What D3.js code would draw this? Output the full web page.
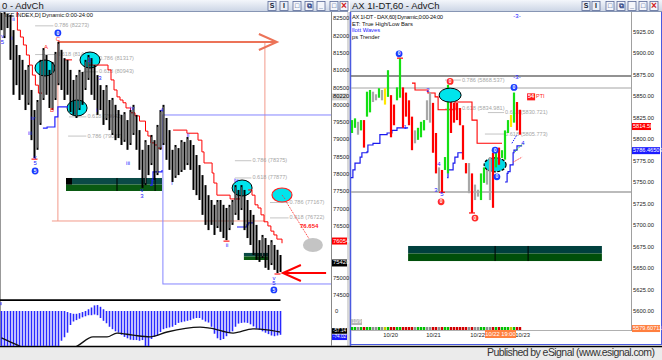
<!DOCTYPE html>
<html>
<head>
<meta charset="utf-8">
<script src="https://cdn.jsdelivr.net/npm/d3@7"></script>
<style>
  body { margin: 0; background: #fff; }
  svg { display: block; font-family: "Liberation Sans", Arial, sans-serif; }
</style>
</head>
<body>
<script>
// ---- left window: daily index bars ----
var dayHigh = [82650,82670,82620,82590,82150,81720,81430,81290,81000,81140,
  80420,79840,80130,81290,81630,81430,81000,81230,81520,81810,
  81580,81340,81290,81000,80710,80850,81000,80940,81290,81430,
  81340,81140,80850,80560,80420,80560,80130,80190,79990,79840,
  79700,79780,79550,79840,79990,79700,79260,78690,78970,78830,
  79120,78970,79410,79840,79990,79610,79260,78690,78830,78740,
  78970,78920,79060,78970,78830,78540,78250,77960,77670,77380,
  77240,77100,77240,77240,77100,77010,77100,77240,77670,77530,
  77670,77530,77240,76950,76810,76520,76080,76230,76140,75940,
  76080,75940,75800,75650];
var dayLow = [82150,81920,82210,81290,80280,80560,80130,80280,79840,79990,
  78970,78450,78690,79410,80130,80280,79900,79840,80130,80560,
  80420,80130,80280,79780,79700,79610,79840,79990,80420,80710,
  80280,80130,79700,79840,79410,79550,79260,79120,78970,79030,
  78830,78920,78690,78830,79120,78690,78110,77590,77670,77960,
  78250,77820,77960,78690,78830,78400,78110,77760,77880,77960,
  78050,78110,78250,78110,77530,77380,77240,76810,76520,76370,
  76520,76230,76430,76320,76140,76080,76370,76520,76810,76660,
  76950,76370,76140,75940,75650,75510,75450,75560,75280,75220,
  75360,75220,75130,75160];
var leftTicks = [82500,82000,81500,81000,80500,80000,79500,79000,78500,78000,77500,77000,76500,75000,74500];

// trailing stops, [bar, price] steps
var redStopL = [
  [[5,82670],[5.3,82150],[6.3,81950],[7.3,81720],[8.3,81430],[9.3,81140],[10.3,80850],[11.3,80560],[12.3,80330],[13.5,80330]],
  [[21.2,81290],[23.5,81290]],
  [[28.8,81140],[35.2,81140],[35.5,81000],[36.5,80710],[37.5,80420],[38.5,80220],[39.5,80130],[40.5,80050],[41.5,79900],[43,79760],[44.5,79670],[46,79520],[48,79230],[48.8,79090],[49.8,78890],[51,78830],[52,78740],[53.5,78740]],
  [[57.2,79260],[61.8,79170],[65.5,78970],[66.8,78630],[67.5,78310],[70.2,78020],[70.8,77730],[71.8,77380],[76.2,77270],[79.5,77270]],
  [[82.2,77530],[83.5,77380],[84.5,77100],[85.5,77010],[86.5,76810],[87.5,76610],[88.8,76490],[89.8,76340],[90.8,76230],[91.8,76110],[93.5,75990]]
];
var blueStopL = [
  [[13.8,79320],[15.2,79350],[17.8,79640],[18.8,79930],[22.2,79930]],
  [[49.5,77670],[50.2,77820],[50.5,78050],[53.5,78110]],
  [[78.5,76460],[81.8,76520],[82.2,76580],[83.8,76580]]
];

// fib retracements: ratio, level, line from bar, line to bar
var fibL = [
  ["0.786", 82273, 11.2, 17.3], ["0.618", 81443, 11.2, 18.2],
  ["0.786", 81317, 27.5, 32.2], ["0.618", 80943, 27.0, 32.2],
  ["0.618", 79642, 22.5, 28.3], ["0.786", 79087, 22.2, 28.3],
  ["0.786", 78375, 77.8, 83.3], ["0.618", 77877, 77.8, 83.3],
  ["0.786", 77167, 89.5, 95.7], ["0.618", 76722, 89.5, 95.7]
];
var wavesL = [
  [0.3,81980,"v","b"],[0.3,81780,"5","b"],[4.0,82445,"ii","b"],[3.5,81920,"i","b"],
  [14.8,81662,"A","r"],[18.8,81893,"C","r"],[16.8,79841,"B","r"],
  [10.5,79610,"iv","b"],[9.5,79177,"iii","b"],[11.2,78483,"v","b"],[11.2,78310,"5","b"],
  [29.5,81286,"2","b"],[32.8,80766,"3","b"],[31.8,79841,"i","b"],[43.5,79899,"iv","b"],
  [42.2,78310,"iii","b"],[46.8,77530,"v","b"],[46.8,77330,"3","b"],[53.5,79841,"4","b"],
  [56.8,77731,"i","b"],[62.2,79119,"ii","b"],[78.2,77818,"iv","b"],[75.2,75940,"ii","b"],
  [90.8,74986,"v","b"],[90.8,74842,"5","b"]
];
var circledL = [[18.8,82067,"0"],[11.2,78078,"5"],[90.8,74640,"5"]];
var lowTicksL = [11, 75, 92];
var cyanL = [[14.5,81055],[29.5,81286],[25.2,79899],[80.2,77587]];
var projEllipse = [93.5, 77385], projTarget = [103.8, 75940];
var projText = [99.5, 76490, "76.654"];
var zonesL = [[21.5,53.5,77876,77500],[80.8,88.8,75710,75506]];
var zoneSplitL = [38.5, 51.2];
var targetBox = {i0: 18.8, i1: 87.8, top: 81806, bot: 76633, botFrom: 16.8, arrowTo: 91.8};
var rangeBox = {i0: 53.8, i1: 110.2, top: 79697, bot: 74813};
var pointer = {from: 108.2, to: 93.8, price: 75130};
var boxesL = [[80220,"80220","#d4d4d4","#000"],[76054,"76054","#ff0000","#fff"],[75420,"75420","#000","#fff"]];

// ---- indicator panel (left) ----
var indTop = [0,0,0,0,0,0,0,0,0,0,0,0,0,0,0,0,0,0,0,0,0,0,
  -3,-6,-8,-8,-6,-3,0,5,10,16,17,12,5,
  0,0,0,0,0,0,0,0,0,0,0,0,0,0,0,0,0,0,0,0,0,0,0,0,0,0,0,0,0,0,0,0,0,0,0,0,0,0,0,0,0,0,0,0,0,0,0,0,0,0,0,0,0,0,0,0,0,0,0];
var indBot = [-100,-100,-100,-100,-100,-100,-100,-100,-100,-100,-100,-100,-100,-100,-100,-100,-100,-100,-100,-100,
  -85,-75,-62,-40,-30,-26,-22,-18,-15,-12,
  -12,-10,-12,-20,-28,-35,-45,-52,-58,-62,
  -68,-74,-78,-82,-83,-83,-85,-83,-100,-100,
  -80,-74,-70,-60,-52,-49,-47,-45,-40,-34,
  -32,-30,-28,-26,-22,-20,-20,-25,-30,-33,
  -45,-65,-78,-83,-80,-72,-63,-58,-45,-36,
  -34,-33,-34,-38,-44,-50,-54,-58,-62,-66,
  -70,-72,-70,-68];
var signalPts = [[0,-77],[5.2,-97],[12,-118],[20,-115],[25.2,-100],[30.5,-74],[35.2,-74],[38.5,-63],[43.8,-69],[49.5,-74],[55.2,-60],[66.2,-46],[69.5,-49],[77.2,-63],[83.8,-51],[88.5,-54],[92.8,-60]];
var indUpper = 31;
var boxesI = [[-57,"-57.14","#000"],[-75,"-74.02","#1a1aff"]];

// ---- right window: hourly DAX bars ----
var hourHigh = [5822,5824,5820,5822,5822,5855,5857,5855,5852,5859,
  5857,5859,5880,5851,5840,5860,5894,5860,5854,5845,
  5826,5810,5813,5820,5822,5845,5854,5842,5807,5767,
  5764,5779,5863,5845,5842,5842,5836,5816,5772,5772,
  5760,5747,5741,5760,5767,5764,5779,5784,5787,5790,
  5787,5810,5822,5828,5854,5843,5834];
var hourLow = [5807,5813,5805,5810,5790,5826,5831,5843,5845,5848,
  5845,5840,5849,5802,5816,5845,5848,5813,5826,5816,
  5787,5795,5799,5802,5810,5822,5819,5784,5760,5738,
  5738,5764,5760,5807,5819,5822,5816,5776,5760,5737,
  5714,5729,5733,5729,5749,5747,5729,5720,5767,5770,
  5778,5776,5807,5814,5819,5810,5805];
var hourColor = ["g","g","n","g","r","g","g","n","n","g",
  "n","y","g","r","r","g","g","r","r","r",
  "r","n","g","g","g","n","n","r","r","n",
  "r","g","g","r","r","r","r","r","r","n",
  "r","n","n","g","g","n","n","r","g","r",
  "g","g","g","y","g","r","r"];
var rightTicks = [5925,5900,5875,5850,5825,5800,5775,5750,5725,5700,5675,5650,5625,5600];
var dateIdx = [12.7, 27, 41.7, 56.7];
var dateLabels = ["10/20","10/21","10/22","10/23"];
var markedTime = [49.5, "10/22 19:00"];

var redStopR = [[[20,5865],[21,5857],[25.3,5853.5],[27.7,5849],[28.7,5834],[34.3,5843],[40,5822],[41.7,5795],[50,5795]]];
var blueStopR = [
  [[-0.7,5755],[0.3,5764],[1,5772],[2.7,5779],[3.3,5784],[5,5785],[5.3,5793],[7,5795],[9.3,5805],[11.7,5807],[13.3,5810],[15,5813],[18.7,5813]],
  [[31.7,5755],[32,5764],[33.7,5772],[34.3,5779],[35.3,5784],[37,5784]],
  [[51,5750],[51.7,5760],[52,5762],[52.7,5770],[53.7,5784],[54,5787],[55,5792],[56.7,5792]]
];
var levelsR = [5873.3, 5859.3, 5738.4];
var fibR = [
  ["0.786", 5868.537, 31, 36.3], ["0.618", 5834.981, 31, 36.3],
  ["0.618", 5830.721, 45.3, 50.7], ["0.618", 5805.773, 44.3, 50.7]
];
var wavesR = [[17.7,5813,"1"],[25.3,5857,"2"],[29,5770,"4"],[28,5740,"3"],[30,5736,"5"],[57,5795,"4"],[55,5942,"-3-"],[55,5872,"-3-"]];
var circledR = [[15.7,5899,"0","b"],[32.7,5867,"0","r"],[54,5860,"0","b"],[29.7,5727,"0","r"],[41,5708,"0","r"],[47.7,5787,"0","b"],[48.3,5756,"0","b"]];
var extremeTicksR = [[16,5894],[30,5738],[40,5714]];
var cyanR = [[32.7,5851],[47.7,5770]];
var zoneR = [18.7, 83.3, 5675.6, 5658.1];
var zoneSplitR = [47.7, 58.7];
var projR = [
  [[54.3,5785],[57,5795],"#22cc22"],
  [[53.7,5773],[56.7,5779],"#ff4040"],
  [[53.3,5795],[55,5805],"#2020ff"]
];
var pti = [58.7, 5849, "54", "PTI"];
var boxesR = [[5814.5,"5814.50","#ff0000"],[5786.46509,"5786.46509","#1a1aff"],[5579.60711,"5579.60711","#ff7f3f"]];

var barColors = {g: "#14e014", r: "#ff0000", n: "#a8a8a8", y: "#ffe800"};
var volColors = {g: "#00c000", r: "#d00000", n: "#909090", y: "#c8c800"};
var BLUE = "#1a1aff", RED = "#ff1a1a";

// ---------------------------------------------------------
var W = 662, H = 360;
var svg = d3.select("body").append("svg").attr("width", W).attr("height", H);
var defs = svg.append("defs");
var tg = defs.append("linearGradient").attr("id", "tbar").attr("x1", 0).attr("x2", 0).attr("y1", 0).attr("y2", 1);
tg.append("stop").attr("offset", "0").attr("stop-color", "#f3f6fb");
tg.append("stop").attr("offset", "1").attr("stop-color", "#c9d3e4");
function clip(id, x, y, w, h) {
  defs.append("clipPath").attr("id", id).append("rect").attr("x", x).attr("y", y).attr("width", w).attr("height", h);
}
clip("cL", 0, 12, 331, 286);
clip("cI", 0, 299, 331, 47);
clip("cR", 351, 12, 280, 318);

var xL = d3.scaleLinear().domain([0, 93]).range([1.5, 280.5]);
var yL = d3.scaleLinear().domain([74500, 82500]).range([294.8, 18]);
var yI = d3.scaleLinear().domain([-100, 0]).range([346, 311]);
var xR = d3.scaleLinear().domain([0, 56]).range([352, 520]);
var yR = d3.scaleLinear().domain([5600, 5925]).range([311, 31.5]);

function text(g, x, y, s, fill, size, anchor, weight) {
  return g.append("text").attr("x", x).attr("y", y).attr("fill", fill)
    .attr("font-size", size).attr("text-anchor", anchor || "start")
    .attr("font-weight", weight || "normal").attr("dominant-baseline", "middle").text(s);
}
function stepLine(g, segs, xs, ys, color, w) {
  var ln = d3.line().x(function(d) { return xs(d[0]); }).y(function(d) { return ys(d[1]); }).curve(d3.curveStepAfter);
  segs.forEach(function(s) {
    g.append("path").attr("d", ln(s)).attr("fill", "none").attr("stroke", color).attr("stroke-width", w);
  });
}
function circled(g, x, y, s, color) {
  g.append("circle").attr("cx", x).attr("cy", y).attr("r", 3.4).attr("fill", color);
  text(g, x, y + 0.3, s, "#fff", 5, "middle", "bold");
}

// ---------- chrome ----------
svg.append("rect").attr("width", W).attr("height", H).attr("fill", "#fff");
svg.append("rect").attr("x", 347).attr("y", 12).attr("width", 3).attr("height", 335).attr("fill", "#d8d8d8");
svg.append("rect").attr("x", 0).attr("y", 347).attr("width", W).attr("height", 13).attr("fill", "#ebebeb");
svg.append("line").attr("x1", 0).attr("x2", W).attr("y1", 346.5).attr("y2", 346.5).attr("stroke", "#000").attr("stroke-width", 1.5);
text(svg, 487, 353.5, "Published by eSignal (www.esignal.com)", "#333", 10.5).attr("textLength", 168);

function titleBar(x0, x1, title, btnX) {
  svg.append("rect").attr("x", x0).attr("y", 0).attr("width", x1 - x0).attr("height", 12).attr("fill", "url(#tbar)");
  svg.append("line").attr("x1", x0).attr("x2", x1).attr("y1", 11.5).attr("y2", 11.5).attr("stroke", "#8796b4");
  text(svg, x0 + 2, 6.5, title, "#1a1a1a", 9.5);
  var glyph = ["S", "I", "\u25a1", "\u29c9", "_", "\u25a1", "\u00d7"];
  btnX.forEach(function(bx, k) {
    var close = k === 6;
    svg.append("rect").attr("x", bx).attr("y", 1.5).attr("width", 8).attr("height", 9)
      .attr("fill", k < 2 ? "#e9edf6" : "#f4f6fb").attr("stroke", "#5a6a98").attr("stroke-width", 0.8);
    text(svg, bx + 4, 6.3, glyph[k], close ? "#d02020" : (k < 2 ? "#101830" : "#2a3f80"), close ? 10 : 7, "middle", "bold");
  });
}
titleBar(0, 348, "0 - AdvCh", [268, 280, 293, 305, 317, 330, 340]);
titleBar(350, 662, "AX 1I-DT,60 - AdvCh", [582, 592, 606, 617, 628, 639, 650]);

// window frame lines
svg.append("line").attr("x1", 0.5).attr("x2", 0.5).attr("y1", 12).attr("y2", 346).attr("stroke", "#999");
svg.append("line").attr("x1", 331.5).attr("x2", 331.5).attr("y1", 12).attr("y2", 346).attr("stroke", "#888");
svg.append("line").attr("x1", 350.5).attr("x2", 350.5).attr("y1", 12).attr("y2", 346).attr("stroke", "#4a5ae0").attr("stroke-width", 1.5);
svg.append("line").attr("x1", 350).attr("x2", 662).attr("y1", 344.5).attr("y2", 344.5).attr("stroke", "#4a5ae0").attr("stroke-width", 1.2);
svg.append("line").attr("x1", 661.5).attr("x2", 661.5).attr("y1", 12).attr("y2", 345).attr("stroke", "#4a5ae0");
svg.append("line").attr("x1", 631.5).attr("x2", 631.5).attr("y1", 12).attr("y2", 331).attr("stroke", "#a0a0a0");
svg.append("line").attr("x1", 351).attr("x2", 631).attr("y1", 330.5).attr("y2", 330.5).attr("stroke", "#b0b0b0");

// ---------- left price chart ----------
var gL = svg.append("g").attr("clip-path", "url(#cL)");
var tb = targetBox;
gL.append("path").attr("d", d3.line()([[xL(tb.i0), yL(tb.top)], [xL(tb.i0), yL(tb.bot)]])).attr("stroke", "#f29a8a").attr("fill", "none");
gL.append("path").attr("d", d3.line()([[xL(tb.i1), yL(tb.top)], [xL(tb.i1), yL(tb.bot)]])).attr("stroke", "#f29a8a").attr("fill", "none");
gL.append("path").attr("d", d3.line()([[xL(tb.botFrom), yL(tb.bot)], [xL(tb.i1), yL(tb.bot)]])).attr("stroke", "#f29a8a").attr("fill", "none");
gL.append("path").attr("d", d3.line()([[xL(tb.i0), yL(tb.top)], [xL(tb.arrowTo), yL(tb.top)]])).attr("stroke", "#ec7358").attr("stroke-width", 2).attr("fill", "none");
gL.append("path").attr("d", d3.line()([[xL(tb.arrowTo) - 18, yL(tb.top) - 8], [xL(tb.arrowTo), yL(tb.top)], [xL(tb.arrowTo) - 18, yL(tb.top) + 8]]))
  .attr("stroke", "#ec7358").attr("stroke-width", 2).attr("fill", "none");

var rb = rangeBox;
gL.append("rect").attr("x", xL(rb.i0)).attr("y", yL(rb.top)).attr("width", xL(rb.i1) - xL(rb.i0)).attr("height", yL(rb.bot) - yL(rb.top))
  .attr("fill", "none").attr("stroke", "#8585ff");

zonesL.forEach(function(z) {
  var mid = (z[2] + z[3]) / 2;
  gL.append("rect").attr("x", xL(z[0])).attr("y", yL(z[2])).attr("width", xL(z[1]) - xL(z[0])).attr("height", yL(mid) - yL(z[2])).attr("fill", "#0b4a47");
  gL.append("rect").attr("x", xL(z[0])).attr("y", yL(mid)).attr("width", xL(z[1]) - xL(z[0])).attr("height", yL(z[3]) - yL(mid)).attr("fill", "#0a5a12");
});
var z0 = zonesL[0];
gL.append("rect").attr("x", xL(z0[0])).attr("y", yL(z0[2])).attr("width", 6).attr("height", (yL(z0[3]) - yL(z0[2])) / 2).attr("fill", "#000");
zoneSplitL.forEach(function(i) {
  gL.append("line").attr("x1", xL(i)).attr("x2", xL(i)).attr("y1", yL(z0[2])).attr("y2", yL(z0[3])).attr("stroke", "#000");
});

fibL.forEach(function(f) {
  gL.append("line").attr("x1", xL(f[2])).attr("x2", xL(f[3])).attr("y1", yL(f[1])).attr("y2", yL(f[1])).attr("stroke", "#c4c4c4");
  text(gL, xL(f[3]) + 1, yL(f[1]), f[0] + " (" + f[1] + ")", "#a6a6a6", 5.6);
});

cyanL.forEach(function(c) {
  gL.append("ellipse").attr("cx", xL(c[0])).attr("cy", yL(c[1])).attr("rx", 10).attr("ry", 8)
    .attr("fill", "#00e4ec").attr("stroke", "#000").attr("stroke-width", 1);
});

stepLine(gL, blueStopL, xL, yL, "#2020ff", 1.2);
stepLine(gL, redStopL, xL, yL, "#ff0000", 1);

dayHigh.forEach(function(h, i) {
  var l = dayLow[i];
  gL.append("rect").attr("x", xL(i) - 1).attr("y", yL(h)).attr("width", 2).attr("height", yL(l) - yL(h)).attr("fill", "#000");
  if (i > 0 && h > dayHigh[i - 1]) {
    gL.append("line").attr("x1", xL(i)).attr("x2", xL(i)).attr("y1", yL(h) + 2).attr("y2", yL(l) - 2).attr("stroke", "#8a8a8a").attr("stroke-width", 0.6);
  }
});
lowTicksL.forEach(function(i) {
  gL.append("line").attr("x1", xL(i) - 3).attr("x2", xL(i) + 3).attr("y1", yL(dayLow[i]) + 1).attr("y2", yL(dayLow[i]) + 1).attr("stroke", RED).attr("stroke-width", 1.2);
});

// projection
gL.append("line").attr("x1", xL(projEllipse[0])).attr("y1", yL(projEllipse[1])).attr("x2", xL(projTarget[0])).attr("y2", yL(projTarget[1]))
  .attr("stroke", "#ff3030").attr("stroke-dasharray", "1,1");
gL.append("ellipse").attr("cx", xL(projTarget[0])).attr("cy", yL(projTarget[1])).attr("rx", 10).attr("ry", 7).attr("fill", "#c4c4c4");
gL.append("ellipse").attr("cx", xL(projEllipse[0])).attr("cy", yL(projEllipse[1])).attr("rx", 10).attr("ry", 7)
  .attr("fill", "#00e4ec").attr("stroke", "#ff2020").attr("stroke-width", 1.2);
gL.append("line").attr("x1", xL(projEllipse[0])).attr("y1", yL(projEllipse[1])).attr("x2", xL(projEllipse[0]) + 3).attr("y2", yL(projEllipse[1]) + 4)
  .attr("stroke", "#ff3030").attr("stroke-dasharray", "1,1");
text(gL, xL(projText[0]), yL(projText[1]), projText[2], "#ff2020", 6, "start", "bold");

wavesL.forEach(function(w) {
  text(gL, xL(w[0]), yL(w[1]), w[2], w[3] === "b" ? BLUE : RED, 6, "middle");
});
circledL.forEach(function(c) { circled(gL, xL(c[0]), yL(c[1]), c[2], "#1a3cff"); });

text(gL, 5, 15.5, "ISE INDEX,D] Dynamic:0:00-24:00", "#111", 5.8).attr("textLength", 88);

// pointer arrow
var py = yL(pointer.price);
svg.append("path").attr("d", d3.line()([[xL(pointer.from), py], [xL(pointer.to), py]])).attr("stroke", "#ff0000").attr("stroke-width", 2);
svg.append("path").attr("d", d3.line()([[xL(pointer.to) + 18, py - 8], [xL(pointer.to), py], [xL(pointer.to) + 18, py + 8]]))
  .attr("stroke", "#ff0000").attr("stroke-width", 2).attr("fill", "none");

// left axis
var axL = d3.axisRight(yL).tickValues(leftTicks).tickSize(0).tickPadding(2).tickFormat(d3.format("d"));
var gAxL = svg.append("g").attr("transform", "translate(331,0)").call(axL);
gAxL.select(".domain").remove();
gAxL.selectAll("text").attr("font-size", 5.8).attr("font-family", "Liberation Sans, Arial").attr("fill", "#222");
boxesL.forEach(function(b) {
  svg.append("rect").attr("x", 332).attr("y", yL(b[0]) - 3.5).attr("width", 15).attr("height", 7).attr("fill", b[2]);
  text(svg, 333, yL(b[0]), b[1], b[3], 5.8);
});

// ---------- indicator ----------
var gI = svg.append("g").attr("clip-path", "url(#cI)");
indBot.forEach(function(v, i) {
  var t = indTop[i];
  gI.append("rect").attr("x", xL(i) - 0.8).attr("y", yI(t)).attr("width", 1.6).attr("height", yI(v) - yI(t)).attr("fill", "#2828ff");
});
gI.append("path").attr("d", d3.line().x(function(d) { return xL(d[0]); }).y(function(d) { return yI(d[1]); }).curve(d3.curveMonotoneX)(signalPts))
  .attr("fill", "none").attr("stroke", "#111").attr("stroke-width", 1.3);
gI.append("line").attr("x1", 0).attr("x2", xL(93)).attr("y1", yI(indUpper)).attr("y2", yI(indUpper)).attr("stroke", "#000").attr("stroke-width", 1.8);
gI.append("line").attr("x1", 1).attr("x2", 1).attr("y1", yI(indUpper) + 2).attr("y2", yI(indUpper) + 5).attr("stroke", "#2828ff");
text(svg, 335, yI(0), "0", "#222", 5.8);
boxesI.forEach(function(b) {
  svg.append("rect").attr("x", 332).attr("y", yI(b[0]) - 2.8).attr("width", 15).attr("height", 5.6).attr("fill", b[2]);
  text(svg, 333, yI(b[0]), b[1], "#fff", 4.6);
});

// ---------- right chart ----------
var gR = svg.append("g").attr("clip-path", "url(#cR)");
levelsR.forEach(function(v, k) {
  gR.append("line").attr("x1", 351).attr("x2", 631).attr("y1", yR(v)).attr("y2", yR(v))
    .attr("stroke", k === 0 ? "#6e6e6e" : "#a4a4a4").attr("stroke-width", k === 1 ? 1 : 1.5);
});
var zr = zoneR, zmid = (zr[2] + zr[3]) / 2;
gR.append("rect").attr("x", xR(zr[0])).attr("y", yR(zr[2])).attr("width", xR(zr[1]) - xR(zr[0])).attr("height", yR(zmid) - yR(zr[2])).attr("fill", "#00403e");
gR.append("rect").attr("x", xR(zr[0])).attr("y", yR(zmid)).attr("width", xR(zr[1]) - xR(zr[0])).attr("height", yR(zr[3]) - yR(zmid)).attr("fill", "#004f0a");
zoneSplitR.forEach(function(i) {
  gR.append("line").attr("x1", xR(i)).attr("x2", xR(i)).attr("y1", yR(zr[2])).attr("y2", yR(zr[3])).attr("stroke", "#000");
});
fibR.forEach(function(f) {
  gR.append("line").attr("x1", xR(f[2])).attr("x2", xR(f[3])).attr("y1", yR(f[1])).attr("y2", yR(f[1])).attr("stroke", "#c4c4c4");
  text(gR, xR(f[3]) + 1, yR(f[1]), f[0] + " (" + f[1] + ")", "#a6a6a6", 5.6);
});
// lower ellipse sits under the bars
gR.append("ellipse").attr("cx", xR(cyanR[1][0])).attr("cy", yR(cyanR[1][1])).attr("rx", 11).attr("ry", 7)
  .attr("fill", "#00d8e4").attr("stroke", "#000").attr("stroke-width", 1.2).attr("stroke-dasharray", "3,1.5");

stepLine(gR, blueStopR, xR, yR, "#1a1aee", 1.2);
stepLine(gR, redStopR, xR, yR, "#ff0000", 1.1);

hourHigh.forEach(function(h, i) {
  gR.append("rect").attr("x", xR(i) - 1.1).attr("y", yR(h)).attr("width", 2.2).attr("height", yR(hourLow[i]) - yR(h))
    .attr("fill", barColors[hourColor[i]]);
  gR.append("rect").attr("x", xR(i) - 1.2).attr("y", 327).attr("width", 2.4).attr("height", 3.5).attr("fill", volColors[hourColor[i]]);
});
extremeTicksR.forEach(function(t) {
  gR.append("line").attr("x1", xR(t[0]) - 3).attr("x2", xR(t[0]) + 3).attr("y1", yR(t[1])).attr("y2", yR(t[1])).attr("stroke", RED).attr("stroke-width", 1.3);
});
gR.append("ellipse").attr("cx", xR(cyanR[0][0])).attr("cy", yR(cyanR[0][1])).attr("rx", 11).attr("ry", 7)
  .attr("fill", "#00e4ec").attr("stroke", "#000").attr("stroke-width", 1);
projR.forEach(function(p) {
  gR.append("line").attr("x1", xR(p[0][0])).attr("y1", yR(p[0][1])).attr("x2", xR(p[1][0])).attr("y2", yR(p[1][1]))
    .attr("stroke", p[2]).attr("stroke-dasharray", "1.5,1");
});
wavesR.forEach(function(w) { text(gR, xR(w[0]), yR(w[1]), w[2], BLUE, 6, "middle"); });
circledR.forEach(function(c) { circled(gR, xR(c[0]), yR(c[1]), c[2], c[3] === "b" ? "#1a3cff" : "#ff2a2a"); });
gR.append("rect").attr("x", xR(pti[0]) - 1).attr("y", yR(pti[1]) - 3.5).attr("width", 8).attr("height", 7).attr("fill", "#ff1a1a");
text(gR, xR(pti[0]) + 3, yR(pti[1]), pti[2], "#fff", 5.5, "middle", "bold");
text(gR, xR(pti[0]) + 8, yR(pti[1]), pti[3], "#ff1a1a", 5.5);

text(gR, 352, 17, "AX 1I-DT - DAX,60] Dynamic,0:00-24:00", "#111", 5.8).attr("textLength", 91);
text(gR, 352, 24, "ET: True High/Low Bars", "#111", 5.8);
text(gR, 352, 30.5, "llott Waves", "#1a1aff", 5.8);
text(gR, 352, 37, "ps Trender", "#111", 5.8);
svg.append("rect").attr("x", 351).attr("y", 319).attr("width", 11).attr("height", 6).attr("fill", "#b4b4b4");
text(svg, 352, 322, "10/9", "#fff", 4.8);

// right axis
var axR = d3.axisRight(yR).tickValues(rightTicks).tickSize(0).tickPadding(2).tickFormat(d3.format(".2f"));
var gAxR = svg.append("g").attr("transform", "translate(631,0)").call(axR);
gAxR.select(".domain").remove();
gAxR.selectAll("text").attr("font-size", 5.8).attr("font-family", "Liberation Sans, Arial").attr("fill", "#222");
boxesR.forEach(function(b) {
  svg.append("rect").attr("x", 632).attr("y", yR(b[0]) - 3.5).attr("width", b[1].length > 7 ? 28 : 19).attr("height", 7).attr("fill", b[2]);
  text(svg, 633, yR(b[0]), b[1], "#fff", 5.6);
});

// date axis
var axD = d3.axisBottom(xR).tickValues(dateIdx).tickSize(0).tickPadding(3).tickFormat(function(d, i) { return dateLabels[i]; });
var gAxD = svg.append("g").attr("transform", "translate(0,330)").call(axD);
gAxD.select(".domain").remove();
gAxD.selectAll("text").attr("font-size", 5.8).attr("font-family", "Liberation Sans, Arial").attr("fill", "#222");
svg.append("rect").attr("x", xR(markedTime[0]) - 15.5).attr("y", 330).attr("width", 31).attr("height", 8).attr("fill", "#ff8040");
text(svg, xR(markedTime[0]), 334.3, markedTime[1], "#fff", 5.8, "middle");
</script>
</body>
</html>
